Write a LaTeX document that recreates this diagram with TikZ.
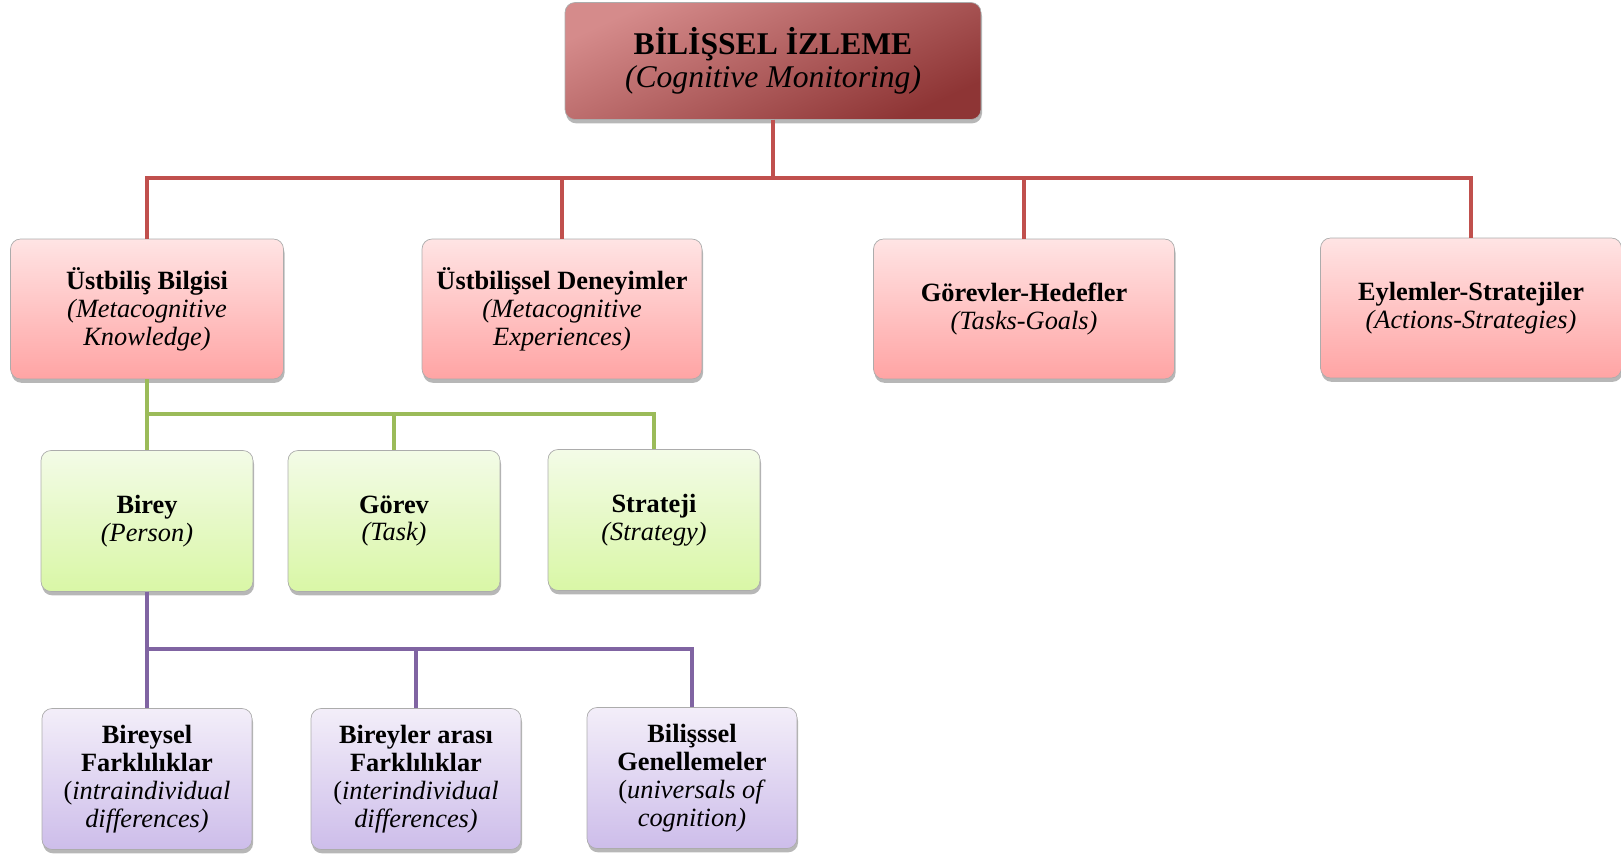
\documentclass[tikz,border=0pt]{standalone}
\usepackage{fontspec}
\setmainfont{Liberation Serif}
\usepackage{xcolor}
\usetikzlibrary{shadows}

\definecolor{redbar}{HTML}{C0504D}
\definecolor{greenbar}{HTML}{9BBB59}
\definecolor{purplebar}{HTML}{8064A2}

\begin{document}
\begin{tikzpicture}[x=0.02cm, y=-0.02cm,
    box/.style={draw=gray!65, thin, rounded corners=0.2cm, align=center,
        inner sep=2pt, font=\fontsize{15}{15.9}\selectfont,
        drop shadow={shadow xshift=0.6pt, shadow yshift=-2.2pt, opacity=0.4, fill=black!70}},
    mainbox/.style={box, top color={rgb,255:red,213;green,139;blue,139},
        bottom color={rgb,255:red,142;green,53;blue,53},
        shading angle=25, minimum width=8.32cm, minimum height=2.34cm,
        font=\fontsize{18}{19}\selectfont},
    pinkbox/.style={box, top color={rgb,255:red,255;green,228;blue,228},
        bottom color={rgb,255:red,255;green,164;blue,164}, minimum height=2.8cm},
    greenbox/.style={box, top color={rgb,255:red,243;green,251;blue,231},
        bottom color={rgb,255:red,217;green,247;blue,166}, minimum width=4.24cm, minimum height=2.82cm},
    purplebox/.style={box, top color={rgb,255:red,243;green,238;blue,249},
        bottom color={rgb,255:red,205;green,189;blue,234}, minimum width=4.2cm, minimum height=2.82cm},
    redline/.style={redbar, line width=2.6pt},
    greenline/.style={greenbar, line width=2.4pt},
    purpleline/.style={purplebar, line width=2.4pt}]

    \useasboundingbox (0,0) rectangle (1621,854);

    %baglantilar
    \coordinate (redbus) at (0,178);
    \coordinate (greenbus) at (0,414);
    \coordinate (purplebus) at (0,649);

    %ust kutu
    \node[mainbox] (izleme) at (773,61) {\textbf{BİLİŞSEL İZLEME}\\\textit{(Cognitive Monitoring)}};

    %ikinci seviye
    \node[pinkbox, minimum width=5.46cm] (bilgi) at (147,309)
        {\textbf{Üstbiliş Bilgisi}\\\textit{(Metacognitive}\\\textit{Knowledge)}};
    \node[pinkbox, minimum width=5.6cm] (deneyim) at (562,309)
        {\textbf{Üstbilişsel Deneyimler}\\\textit{(Metacognitive}\\\textit{Experiences)}};
    \node[pinkbox, minimum width=6.02cm] (hedef) at (1024,309)
        {\textbf{Görevler-Hedefler}\\\textit{(Tasks-Goals)}};
    \node[pinkbox, minimum width=6.02cm] (eylem) at (1471,308)
        {\textbf{Eylemler-Stratejiler}\\\textit{(Actions-Strategies)}};

    %ucuncu seviye
    \node[greenbox] (birey) at (147,521) {\textbf{Birey}\\\textit{(Person)}};
    \node[greenbox] (gorev) at (394,521) {\textbf{Görev}\\\textit{(Task)}};
    \node[greenbox] (strateji) at (654,520) {\textbf{Strateji}\\\textit{(Strategy)}};

    %dorduncu seviye
    \node[purplebox] (bireysel) at (147,779)
        {\textbf{Bireysel}\\\textbf{Farklılıklar}\\(\textit{intraindividual}\\\textit{differences)}};
    \node[purplebox] (arasi) at (416,779)
        {\textbf{Bireyler arası}\\\textbf{Farklılıklar}\\(\textit{interindividual}\\\textit{differences)}};
    \node[purplebox] (genel) at (692,778)
        {\textbf{Bilişssel}\\\textbf{Genellemeler}\\(\textit{universals of}\\\textit{cognition)}};

    %cizgiler
    \foreach \n in {bilgi,deneyim,hedef,eylem}
        \draw[redline] (izleme.south) -- (izleme.south |- redbus) -| (\n.north);
    \foreach \n in {birey,gorev,strateji}
        \draw[greenline] (bilgi.south) -- (bilgi.south |- greenbus) -| (\n.north);
    \foreach \n in {bireysel,arasi,genel}
        \draw[purpleline] (birey.south) -- (birey.south |- purplebus) -| (\n.north);
\end{tikzpicture}
\end{document}
